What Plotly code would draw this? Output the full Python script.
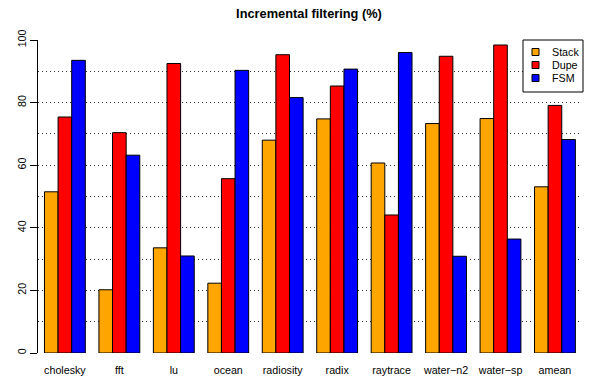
import plotly.graph_objects as go

# Benchmarks and per-filter incremental filtering percentages
benchmarks = ["cholesky", "fft", "lu", "ocean", "radiosity", "radix",
              "raytrace", "water\u2212n2", "water\u2212sp", "amean"]
stack = [51.5, 20.2, 33.6, 22.3, 68.0, 74.8, 60.7, 73.3, 74.9, 53.1]
dupe = [75.4, 70.4, 92.5, 55.7, 95.3, 85.3, 44.1, 94.8, 98.4, 79.1]
fsm = [93.5, 63.2, 31.0, 90.3, 81.6, 90.7, 96.0, 30.9, 36.4, 68.2]

series_names = ["Stack", "Dupe", "FSM"]
series_values = [stack, dupe, fsm]
series_colors = ["#FFA500", "#FF0000", "#0000FF"]
y_ticks = [0, 20, 40, 60, 80, 100]

FONT = "Liberation Sans, Arial, Helvetica, sans-serif"
W, H = 590, 378
ML, MR, MT, MB = 38, 10, 40, 25
PW, PH = W - ML - MR, H - MT - MB


def px_x(p):
    """pixel column -> paper x"""
    return (p - ML) / PW


def px_y(p):
    """pixel row -> paper y"""
    return 1 - (p - MT) / PH


fig = go.Figure()
for name, vals, col in zip(series_names, series_values, series_colors):
    fig.add_trace(go.Bar(
        x=benchmarks, y=vals, name=name,
        marker=dict(color=col, line=dict(color="black", width=1)),
        showlegend=False,
    ))

# legend box with small outlined colour keys
shapes = [dict(type="rect", xref="paper", yref="paper",
               x0=px_x(523), x1=px_x(583), y0=px_y(92), y1=px_y(40),
               line=dict(color="black", width=1), fillcolor="white",
               layer="above")]
annotations = []
for i, (name, col) in enumerate(zip(series_names, series_colors)):
    cy = 52 + 13 * i
    shapes.append(dict(type="rect", xref="paper", yref="paper",
                       x0=px_x(532), x1=px_x(539),
                       y0=px_y(cy + 3.5), y1=px_y(cy - 3.5),
                       line=dict(color="black", width=1), fillcolor=col,
                       layer="above"))
    annotations.append(dict(text=name, xref="paper", yref="paper",
                            x=px_x(550), y=px_y(cy), xanchor="left",
                            yanchor="middle", showarrow=False,
                            font=dict(size=10.7, family=FONT, color="black")))

fig.update_layout(
    width=W, height=H,
    margin=dict(l=ML, r=MR, t=MT, b=MB),
    paper_bgcolor="white", plot_bgcolor="white",
    barmode="group", bargap=0.25, bargroupgap=0,
    font=dict(family=FONT, size=10.7, color="black"),
    title=dict(text="<b>Incremental filtering (%)</b>",
               x=0.5, xref="paper", xanchor="center",
               y=1 - 14 / H, yref="container", yanchor="middle",
               font=dict(size=12.8, family=FONT, color="black")),
    showlegend=False,
    shapes=shapes,
    annotations=annotations,
)
fig.update_xaxes(
    type="category", range=[-0.494, 9.46], automargin=False,
    showline=False, showgrid=False, ticks="",
    ticklabelstandoff=9, tickfont=dict(size=10.7),
)
fig.update_yaxes(
    range=[0, 100], tickvals=y_ticks, ticktext=[str(v) for v in y_ticks],
    automargin=False,
    tickangle=-90, ticks="outside", ticklen=7, tickcolor="black",
    tickwidth=1, showline=True, linecolor="black", linewidth=1,
    showgrid=True, gridcolor="#333", griddash="1px,3px", gridwidth=1,
    minor=dict(dtick=10, tick0=0, showgrid=True, gridcolor="#333",
               griddash="1px,3px", gridwidth=1, ticks=""),
    zeroline=False, tickfont=dict(size=10.7),
)

fig.write_html("out.html")
